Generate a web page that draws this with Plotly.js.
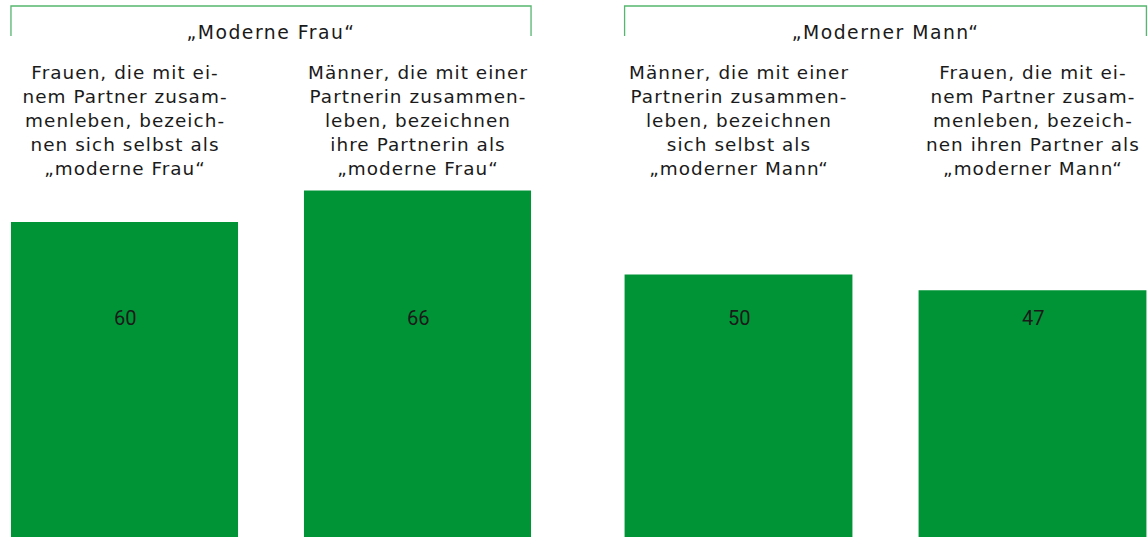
<!DOCTYPE html>
<html>
<head>
<meta charset="utf-8">
<script src="https://cdn.plot.ly/plotly-3.0.1.min.js"></script>
<style>html,body{margin:0;padding:0;background:#fff;}#chart{width:1148px;height:537px;}</style>
</head>
<body>
<div id="chart"></div>
<script>
// ---- data ----
const groupTitles = ["„Moderne Frau“", "„Moderner Mann“"];
const leftCategories = [
  "Frauen, die mit ei-<br>nem Partner zusam-<br>menleben, bezeich-<br>nen sich selbst als<br>„moderne Frau“",
  "Männer, die mit einer<br>Partnerin zusammen-<br>leben, bezeichnen<br>ihre Partnerin als<br>„moderne Frau“"
];
const rightCategories = [
  "Männer, die mit einer<br>Partnerin zusammen-<br>leben, bezeichnen<br>sich selbst als<br>„moderner Mann“",
  "Frauen, die mit ei-<br>nem Partner zusam-<br>menleben, bezeich-<br>nen ihren Partner als<br>„moderner Mann“"
];
const leftValues = [60, 66];
const rightValues = [50, 47];

// ---- style ----
const W = 1148, H = 537;
const green = "#009436";
const bracketColor = "#55b66f";
const textColor = "#1a1a1a";
const labelFont = {family: "DejaVu Sans, Liberation Sans, sans-serif", size: 18.4, color: textColor};
const titleFont = {family: "DejaVu Sans, Liberation Sans, sans-serif", size: 18.8, color: textColor};
const valueFont = {family: "Roboto, sans-serif", size: 20, color: textColor};
const barWidth = 0.775;

function idx(arr){ return arr.map((_, i) => i); }

const traces = [
  {type: "bar", x: idx(leftValues), y: leftValues, width: barWidth, xaxis: "x", yaxis: "y",
   marker: {color: green}, hoverinfo: "none", textposition: "none"},
  {type: "bar", x: idx(rightValues), y: rightValues, width: barWidth, xaxis: "x2", yaxis: "y",
   marker: {color: green}, hoverinfo: "none", textposition: "none"}
];

const pxPerUnit = 5.25;
const annotations = [];
const spacing = [];
const shapes = [];
const groups = [
  {xref: "x", cats: leftCategories, vals: leftValues, title: groupTitles[0]},
  {xref: "x2", cats: rightCategories, vals: rightValues, title: groupTitles[1]}
];
const py = p => (H - p) / H;  // pixel from top -> paper
groups.forEach(g => {
  g.cats.forEach((c, i) => {
    annotations.push({xref: g.xref, yref: "paper", x: i, y: py(60), yanchor: "top", xanchor: "center",
      text: c, showarrow: false, font: labelFont, align: "center"});
    spacing.push("1.05px");
    annotations.push({xref: g.xref, yref: "paper", x: i, y: py(318), yanchor: "middle", xanchor: "center",
      text: String(g.vals[i]), showarrow: false, font: valueFont});
    spacing.push("0px");
  });
  const x0 = -barWidth / 2, x1 = g.cats.length - 1 + barWidth / 2;
  shapes.push({type: "path", xref: g.xref, yref: "paper",
    path: `M ${x0} ${py(36)} L ${x0} ${py(6)} L ${x1} ${py(6)} L ${x1} ${py(36)}`,
    line: {color: bracketColor, width: 1.3}});
  annotations.push({xref: g.xref, yref: "paper", x: (g.cats.length - 1) / 2, y: py(32), yanchor: "middle",
    xanchor: "center", text: g.title, showarrow: false, font: titleFont});
  spacing.push("1.5px");
});

const half = W / 2;
const lStep = 293, lStart = 124.5;
const rStep = 294, rStart = 738.5 - half;

const layout = {
  width: W, height: H,
  margin: {l: 0, r: 0, t: 0, b: 0, pad: 0},
  paper_bgcolor: "#fff", plot_bgcolor: "#fff",
  showlegend: false,
  xaxis: {domain: [0, 0.5], range: [-lStart / lStep, (half - lStart) / lStep], visible: false, fixedrange: true},
  xaxis2: {domain: [0.5, 1], range: [-rStart / rStep, (half - rStart) / rStep], visible: false, fixedrange: true},
  yaxis: {range: [0, H / pxPerUnit], visible: false, fixedrange: true},
  annotations: annotations,
  shapes: shapes
};

Plotly.newPlot("chart", traces, layout, {displayModeBar: false, staticPlot: true}).then(gd => {
  gd.querySelectorAll(".annotation").forEach(el => {
    const i = +el.getAttribute("data-index");
    const t = el.querySelector(".annotation-text");
    if (t && spacing[i]) t.style.letterSpacing = spacing[i];
  });
});
</script>
</body>
</html>
